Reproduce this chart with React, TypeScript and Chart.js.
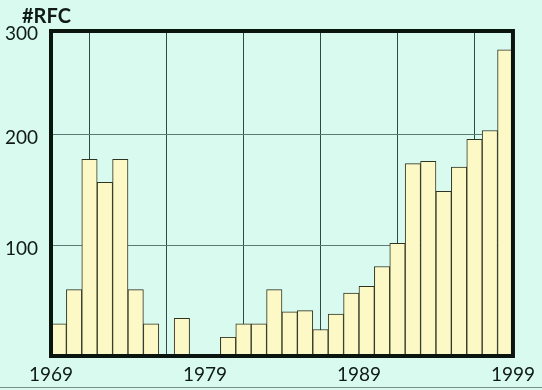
import React, { useEffect, useRef } from "react";
import { Chart, registerables } from "chart.js";

Chart.register(...registerables);

// ---- data ----
const years = [
  1969, 1970, 1971, 1972, 1973, 1974, 1975, 1976, 1977, 1978,
  1979, 1980, 1981, 1982, 1983, 1984, 1985, 1986, 1987, 1988,
  1989, 1990, 1991, 1992, 1993, 1994, 1995, 1996, 1997, 1998,
];
const rfcCounts = [
  29, 60, 178, 157, 178, 60, 29, 0, 34, 0,
  0, 17, 29, 29, 60, 40, 41, 24, 38, 57,
  63, 81, 102, 174, 176, 149, 171, 196, 204, 277,
];
const xGridYears = [1969, 1974, 1979, 1984, 1989, 1994, 1999];
const xLabelYears = [1969, 1979, 1989, 1999];
const yTickValues = [100, 200, 294];
const yTickLabels = ["100", "200", "300"];
const yTitle = "#RFC";

const BG = "#d9fbef";
const BAR_FILL = "#fcf9c6";
const BAR_EDGE = "#2f3322";
const FRAME = "#0a1510";
const FONT = "Lato, 'Open Sans', sans-serif";

export default function App() {
  const ref = useRef<HTMLCanvasElement | null>(null);

  useEffect(() => {
    document.body.style.margin = "0";
    const canvas = ref.current;
    if (!canvas) return;

    const decor = {
      id: "decor",
      beforeDraw(chart: any) {
        const { ctx, width, height } = chart;
        ctx.save();
        ctx.fillStyle = BG;
        ctx.fillRect(0, 0, width, height);
        ctx.restore();
      },
      afterDraw(chart: any) {
        const { ctx, chartArea: a } = chart;
        ctx.save();
        ctx.strokeStyle = FRAME;
        ctx.lineWidth = 4;
        ctx.strokeRect(a.left, a.top, a.right - a.left, a.bottom - a.top);
        ctx.fillStyle = "#101a16";
        ctx.font = `bold 20px ${FONT}`;
        ctx.textBaseline = "alphabetic";
        ctx.textAlign = "left";
        ctx.fillText(yTitle, 22, 23);
        ctx.strokeStyle = "#7d8f89";
        ctx.lineWidth = 1;
        ctx.beginPath();
        ctx.moveTo(0, 387.5);
        ctx.lineTo(chart.width, 387.5);
        ctx.stroke();
        ctx.restore();
      },
    };

    const chart = new Chart(canvas, {
      type: "bar",
      data: {
        datasets: [
          {
            data: years.map((yr, i) => ({ x: yr + 0.5, y: rfcCounts[i] })),
            backgroundColor: BAR_FILL,
            borderColor: BAR_EDGE,
            borderWidth: 1,
            categoryPercentage: 1,
            barPercentage: 1,
          },
        ],
      },
      options: {
        animation: false,
        responsive: false,
        devicePixelRatio: 1,
        layout: { padding: { top: 31, right: 26, left: 0, bottom: 0 } },
        plugins: {
          legend: { display: false },
          tooltip: { enabled: false },
          title: { display: false },
        },
        scales: {
          x: {
            type: "linear",
            min: 1969,
            max: 1999,
            offset: false,
            afterBuildTicks: (s: any) => {
              s.ticks = xGridYears.map((v) => ({ value: v }));
            },
            afterFit: (s: any) => {
              s.height = 34;
            },
            ticks: {
              autoSkip: false,
              maxRotation: 0,
              padding: 7,
              color: "#101a16",
              font: { family: FONT, size: 19 },
              callback: (v: any) =>
                xLabelYears.includes(Number(v)) ? String(v) : "",
            },
            grid: {
              drawTicks: false,
              color: "#2e4a44",
              lineWidth: 1,
            },
            border: { display: false },
          },
          y: {
            min: 0,
            max: 294,
            afterBuildTicks: (s: any) => {
              s.ticks = yTickValues.map((v) => ({ value: v }));
            },
            afterFit: (s: any) => {
              s.width = 51;
            },
            ticks: {
              padding: 13,
              labelOffset: 3,
              color: "#101a16",
              font: { family: FONT, size: 19 },
              callback: (v: any) => {
                const i = yTickValues.indexOf(Number(v));
                return i >= 0 ? yTickLabels[i] : "";
              },
            },
            grid: {
              drawTicks: false,
              color: "#5c7a72",
              lineWidth: 1,
            },
            border: { display: false },
          },
        },
      },
      plugins: [decor],
    } as any);

    return () => chart.destroy();
  }, []);

  return (
    <canvas
      ref={ref}
      width={542}
      height={390}
      style={{ display: "block", width: 542, height: 390 }}
    />
  );
}
